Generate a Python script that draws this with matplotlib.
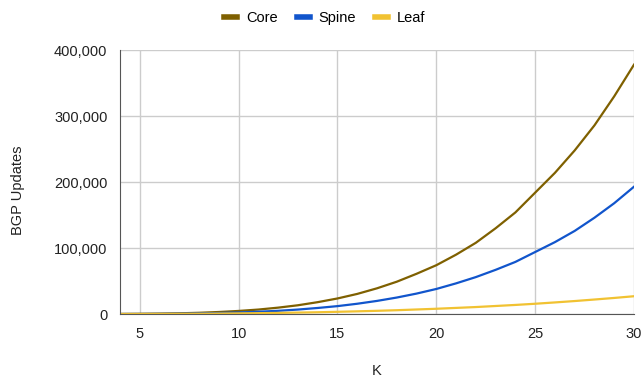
import matplotlib.pyplot as plt
from matplotlib.ticker import FuncFormatter

plt.rcParams['font.family'] = ['Liberation Sans', 'DejaVu Sans']

# values
k = list(range(4, 31))
core = [120, 290, 600, 1100, 1900, 3100, 4700, 6800, 9700, 13300, 18000,
        23600, 30500, 39000, 49000, 61000, 74000, 90000, 108000, 130000,
        154000, 184000, 214000, 248000, 286000, 330000, 378000]
spine = [60, 150, 300, 570, 1000, 1560, 2400, 3500, 4900, 6800, 9200,
         12000, 15600, 19900, 25000, 31000, 38000, 46500, 56000, 67000,
         79000, 94000, 109000, 126000, 146000, 168000, 193000]
leaf = [64, 125, 220, 340, 500, 730, 1000, 1330, 1700, 2200, 2700,
        3400, 4100, 4900, 5800, 6900, 8000, 9300, 10600, 12200,
        13800, 15600, 17600, 19700, 22000, 24400, 27000]

fig = plt.figure(figsize=(6.43, 3.77), dpi=100)
ax = fig.add_axes([0.1866, 0.167, 0.7994, 0.70])

ax.plot(k, core, color='#7f6000', lw=1.6, label='Core')
ax.plot(k, spine, color='#1155cc', lw=1.6, label='Spine')
ax.plot(k, leaf, color='#f1c232', lw=1.6, label='Leaf')

ax.set_xlim(4, 30)
ax.set_ylim(0, 400000)
ax.set_xticks([5, 10, 15, 20, 25, 30])
ax.set_yticks([0, 100000, 200000, 300000, 400000])
ax.yaxis.set_major_formatter(FuncFormatter(lambda v, p: f'{int(v):,}'))
ax.grid(True, color='#cccccc', lw=1)
ax.set_axisbelow(True)
ax.tick_params(length=0, labelsize=10.5, colors='#222222', pad=9)

for s in ['top', 'right']:
    ax.spines[s].set_visible(False)
ax.spines['left'].set_color('#555555')
ax.spines['bottom'].set_color('#555555')

ax.set_xlabel('K', fontsize=10.5, color='#222222', labelpad=17)
ax.set_ylabel('BGP Updates', fontsize=10.5, color='#222222')
ax.yaxis.set_label_coords(-0.184, 0.47)

fig.legend(*ax.get_legend_handles_labels(), loc='center',
           bbox_to_anchor=(0.505, 0.952), ncol=3, frameon=False,
           fontsize=10.5, handlelength=0.9, handletextpad=0.6, columnspacing=1.3)
for h in fig.legends[0].get_lines():
    h.set_linewidth(4)

fig.savefig('out.png', dpi=100)
